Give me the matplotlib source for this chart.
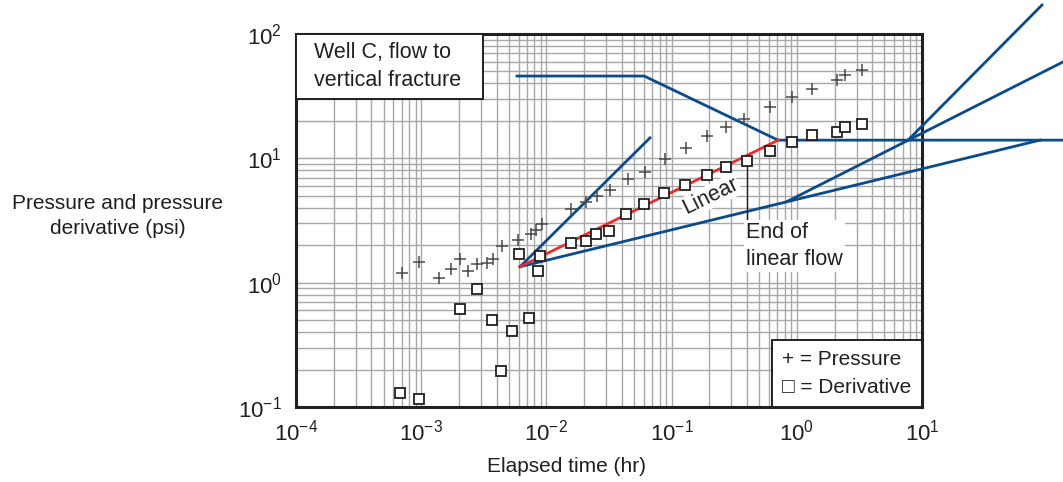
import matplotlib
matplotlib.use("Agg")
import matplotlib.pyplot as plt
from matplotlib.patches import Rectangle
from matplotlib.ticker import LogLocator, NullFormatter
import numpy as np

FONT = ["Liberation Sans", "DejaVu Sans"]
plt.rcParams["font.family"] = FONT
plt.rcParams["mathtext.fontset"] = "custom"
plt.rcParams["mathtext.rm"] = "Liberation Sans"
plt.rcParams["mathtext.it"] = "Liberation Sans"
plt.rcParams["mathtext.bf"] = "Liberation Sans"

BLUE = "#0b4a8b"
RED = "#ee2b2b"
TXT = "#231f20"

# ── Well C test data ─────────────────────────────────────────────────────────
p_time = [6.98e-4, 9.6e-4, 1.38e-3, 1.74e-3, 2.04e-3, 2.35e-3, 2.81e-3, 3.36e-3,
          3.72e-3, 4.40e-3, 5.93e-3, 7.57e-3, 8.22e-3, 9.23e-3, 0.0157, 0.0206,
          0.0254, 0.0324, 0.0451, 0.0608, 0.0885, 0.131, 0.193, 0.272, 0.381,
          0.608, 0.916, 1.32, 2.11, 2.44, 3.32]
pressure = [1.19, 1.47, 1.09, 1.29, 1.56, 1.25, 1.40, 1.43, 1.56, 1.98, 2.22,
            2.44, 2.63, 2.94, 3.89, 4.45, 4.97, 5.56, 6.78, 7.80, 9.82, 12.2,
            15.2, 17.9, 20.8, 26.0, 31.3, 36.3, 42.9, 46.5, 51.3]

d_time = [6.73e-4, 9.6e-4, 2.04e-3, 2.79e-3, 3.70e-3, 4.32e-3, 5.28e-3, 6.01e-3,
          7.23e-3, 8.83e-3, 8.57e-3, 0.0158, 0.0207, 0.0251, 0.0316, 0.0434,
          0.0605, 0.0869, 0.129, 0.193, 0.270, 0.400, 0.614, 0.910, 1.31, 2.09,
          2.44, 3.32]
derivative = [0.129, 0.115, 0.614, 0.883, 0.500, 0.195, 0.408, 1.70, 0.522, 1.64,
              1.25, 2.10, 2.15, 2.47, 2.60, 3.54, 4.33, 5.23, 6.13, 7.34, 8.46,
              9.51, 11.5, 13.5, 15.3, 16.3, 17.8, 19.0]

# interpretation lines (time, psi)
apex = (0.00615, 1.343)
unit_slope_x = [apex[0], 0.0671]
unit_slope_y = [apex[1], 14.6]
linear_x = [apex[0], 0.708]
linear_y = [apex[1], 14.0]
bilinear_x = [apex[0], 87.5]
bilinear_y = [apex[1], 14.0]
half_x = [0.83, 133.7]
half_y = [4.48, 59.6]
late_unit_x = [7.73, 90.8]
late_unit_y = [14.0, 171.0]
trend_x = [0.00582, 0.0603, 0.708, 133.7]
trend_y = [45.9, 45.9, 14.0, 14.0]

end_linear_t = 0.400

fig = plt.figure(figsize=(10.63, 4.82), dpi=100)
ax = fig.add_axes([0.2785, 0.1556, 0.5889, 0.7739])
ax.set_xscale("log")
ax.set_yscale("log")
ax.set_xlim(1e-4, 1e1)
ax.set_ylim(1e-1, 1e2)

for axis in (ax.xaxis, ax.yaxis):
    axis.set_major_locator(LogLocator(base=10, numticks=10))
    axis.set_minor_locator(LogLocator(base=10, subs=np.arange(2, 10), numticks=100))
    axis.set_minor_formatter(NullFormatter())
ax.grid(True, which="both", color="#a8a8a8", linewidth=1.0)
ax.set_axisbelow(True)
ax.tick_params(which="both", length=0, labelsize=16, colors=TXT)
ax.tick_params(axis="x", pad=9)
ax.tick_params(axis="y", pad=10)
for s in ax.spines.values():
    s.set_linewidth(2.2)
    s.set_color(TXT)

# straight-line interpretation (runs past the plot frame)
kw = dict(color=BLUE, linewidth=2.0, clip_on=False, zorder=3)
ax.plot(trend_x, trend_y, **kw)
ax.plot(unit_slope_x, unit_slope_y, **kw)
ax.plot(bilinear_x, bilinear_y, **kw)
ax.plot(half_x, half_y, **kw)
ax.plot(late_unit_x, late_unit_y, **kw)
ax.plot(linear_x, linear_y, color=RED, linewidth=2.0, zorder=4)

ax.plot(p_time, pressure, linestyle="none", marker="+", markersize=8,
        markeredgewidth=1.1, color="#4a4a4a", zorder=5)
ax.plot(d_time, derivative, linestyle="none", marker="s", markersize=7,
        markeredgewidth=1.3, markeredgecolor=TXT, markerfacecolor="white", zorder=5)

# end of linear flow marker
ax.plot([end_linear_t, end_linear_t], [8.9, 2.9], color=TXT, linewidth=1.0, zorder=4)
ax.text(0.392, 1.97, "End of\nlinear flow", fontsize=15.5, color=TXT, ha="left",
        va="center", linespacing=1.4, zorder=6,
        bbox=dict(facecolor="white", edgecolor="none", pad=1.5))
ax.text(0.205, 4.95, "Linear", fontsize=15.5, color=TXT, ha="center", va="center",
        rotation=26, rotation_mode="anchor", zorder=6,
        bbox=dict(facecolor="white", edgecolor="none", pad=0.8))

# title box
ax.add_patch(Rectangle((0, 0.8257), 0.2987, 0.1743, transform=ax.transAxes,
                       facecolor="white", edgecolor=TXT, linewidth=1.4, zorder=7))
ax.text(0.028, 0.9128, "Well C, flow to\nvertical fracture", transform=ax.transAxes,
        fontsize=15.5, color=TXT, ha="left", va="center", linespacing=1.4, zorder=8)

# key box
ax.add_patch(Rectangle((0.7604, 0), 0.2396, 0.1796, transform=ax.transAxes,
                       facecolor="white", edgecolor=TXT, linewidth=1.4, zorder=7))
ax.text(0.777, 0.128, "+ = Pressure", transform=ax.transAxes, fontsize=15,
        color=TXT, ha="left", va="center", zorder=8)
ax.text(0.777, 0.051, "\u25a1 = Derivative", transform=ax.transAxes, fontsize=15,
        color=TXT, ha="left", va="center", zorder=8, family=FONT)

fig.text(118 / 1063, 1 - 216 / 482, "Pressure and pressure\nderivative (psi)",
         fontsize=15, color=TXT, ha="center", va="center", linespacing=1.4)
fig.text(566 / 1063, 1 - 467 / 482, "Elapsed time (hr)", fontsize=15, color=TXT,
         ha="center", va="center")

fig.savefig("out.png", dpi=100)
